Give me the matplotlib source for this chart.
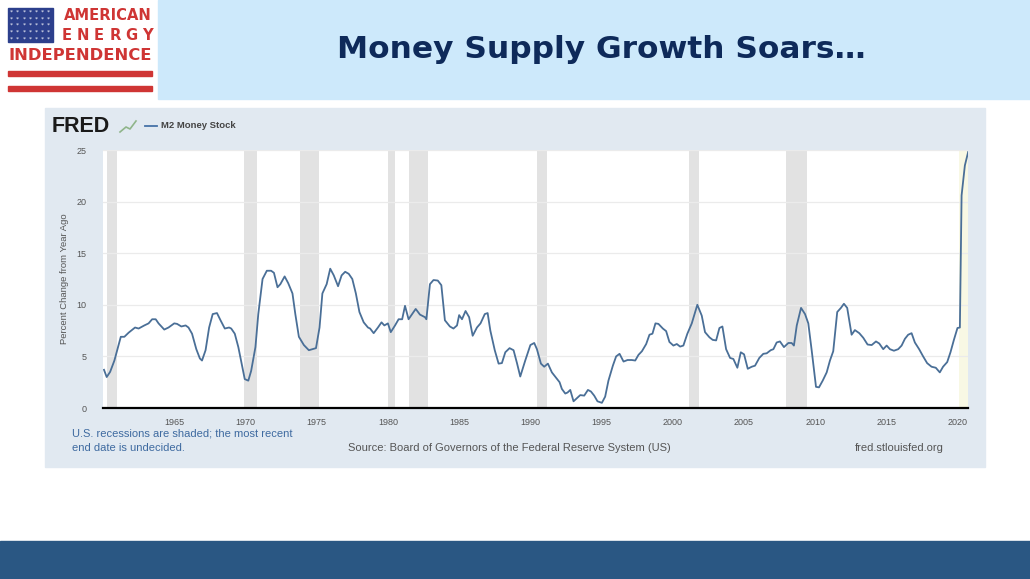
import matplotlib
matplotlib.use("Agg")
import matplotlib.pyplot as plt
from matplotlib.patches import Rectangle

# M2 money stock, percent change from year ago
years = [1960.07, 1960.26, 1960.5, 1960.8, 1961.25, 1961.5, 1961.8, 1962.25, 1962.5, 1962.9,
         1963.2, 1963.45, 1963.7, 1963.9, 1964.3, 1964.6, 1965.0, 1965.2, 1965.5, 1965.8,
         1966.0, 1966.25, 1966.55, 1966.8, 1966.95, 1967.2, 1967.45, 1967.7, 1968.0, 1968.25,
         1968.55, 1968.85, 1969.0, 1969.25, 1969.5, 1969.95, 1970.2, 1970.4, 1970.7, 1970.9,
         1971.2, 1971.5, 1971.8, 1972.0, 1972.25, 1972.45, 1972.75, 1973.0, 1973.3, 1973.5,
         1973.75, 1974.1, 1974.45, 1974.7, 1974.95, 1975.2, 1975.4, 1975.7, 1975.95, 1976.2,
         1976.5, 1976.75, 1977.0, 1977.25, 1977.5, 1977.75, 1978.0, 1978.3, 1978.6, 1978.75,
         1979.0, 1979.3, 1979.55, 1979.75, 1980.0, 1980.2, 1980.5, 1980.75, 1981.0, 1981.2,
         1981.45, 1981.7, 1981.95, 1982.25, 1982.6, 1982.7, 1982.95, 1983.2, 1983.5, 1983.75,
         1984.0, 1984.35, 1984.6, 1984.85, 1985.0, 1985.2, 1985.45, 1985.7, 1985.95, 1986.25,
         1986.5, 1986.8, 1987.0, 1987.19, 1987.5, 1987.77, 1988.0, 1988.24, 1988.54, 1988.82,
         1989.06, 1989.29, 1989.64, 1990.0, 1990.27, 1990.46, 1990.74, 1990.97, 1991.23, 1991.51,
         1991.82, 1992.05, 1992.21, 1992.45, 1992.61, 1992.8, 1993.03, 1993.27, 1993.5, 1993.78,
         1994.04, 1994.25, 1994.48, 1994.71, 1995.02, 1995.25, 1995.48, 1995.79, 1996.02, 1996.26,
         1996.54, 1996.82, 1997.12, 1997.36, 1997.59, 1997.83, 1998.13, 1998.36, 1998.57, 1998.78,
         1998.99, 1999.3, 1999.53, 1999.76, 2000.04, 2000.28, 2000.51, 2000.74, 2001.02, 2001.33,
         2001.72, 2002.03, 2002.26, 2002.57, 2002.8, 2003.04, 2003.27, 2003.48, 2003.74, 2004.02,
         2004.25, 2004.53, 2004.77, 2005.0, 2005.26, 2005.54, 2005.77, 2006.07, 2006.35, 2006.59,
         2006.87, 2007.06, 2007.29, 2007.52, 2007.8, 2008.11, 2008.34, 2008.5, 2008.7, 2009.0,
         2009.28, 2009.51, 2009.75, 2010.05, 2010.26, 2010.52, 2010.8, 2011.03, 2011.26, 2011.54,
         2011.8, 2012.01, 2012.24, 2012.38, 2012.55, 2012.78, 2013.09, 2013.37, 2013.67, 2013.96,
         2014.26, 2014.49, 2014.77, 2015.01, 2015.24, 2015.52, 2015.82, 2016.06, 2016.29, 2016.52,
         2016.76, 2016.99, 2017.29, 2017.57, 2017.85, 2018.16, 2018.46, 2018.74, 2018.97, 2019.26,
         2019.49, 2019.73, 2019.98, 2020.15, 2020.27, 2020.5, 2020.73]
m2_yoy = [3.7, 3.0, 3.5, 4.6, 6.9, 6.9, 7.3, 7.8, 7.7, 8.0,
          8.2, 8.6, 8.6, 8.2, 7.6, 7.8, 8.2, 8.15, 7.9, 8.0,
          7.8, 7.2, 5.7, 4.8, 4.6, 5.6, 7.8, 9.1, 9.2, 8.5,
          7.7, 7.8, 7.7, 7.2, 5.9, 2.8, 2.65, 3.6, 5.9, 9.1,
          12.5, 13.3, 13.3, 13.1, 11.7, 12.0, 12.75, 12.1, 11.1, 9.1,
          6.9, 6.1, 5.6, 5.7, 5.8, 7.8, 11.1, 12.0, 13.5, 12.85,
          11.8, 12.85, 13.2, 13.0, 12.5, 11.1, 9.3, 8.3, 7.8, 7.7,
          7.25, 7.8, 8.3, 8.0, 8.2, 7.35, 8.0, 8.6, 8.6, 9.9,
          8.6, 9.1, 9.6, 9.05, 8.8, 8.6, 12.0, 12.4, 12.35, 11.9,
          8.5, 7.9, 7.7, 8.0, 9.0, 8.6, 9.4, 8.8, 7.0, 7.8,
          8.2, 9.1, 9.2, 7.5, 5.6, 4.3, 4.35, 5.4, 5.8, 5.6,
          4.35, 3.05, 4.6, 6.1, 6.3, 5.7, 4.3, 4.0, 4.3, 3.45,
          2.9, 2.5, 1.85, 1.4, 1.5, 1.75, 0.65, 0.95, 1.25, 1.2,
          1.75, 1.6, 1.2, 0.65, 0.5, 1.1, 2.65, 4.1, 5.0, 5.25,
          4.5, 4.65, 4.65, 4.6, 5.15, 5.5, 6.2, 7.1, 7.2, 8.2,
          8.15, 7.7, 7.45, 6.4, 6.05, 6.2, 5.95, 6.05, 7.2, 8.2,
          10.0, 8.95, 7.35, 6.85, 6.6, 6.55, 7.75, 7.9, 5.7, 4.85,
          4.75, 3.9, 5.4, 5.2, 3.8, 4.0, 4.1, 4.85, 5.25, 5.3,
          5.6, 5.7, 6.35, 6.45, 5.9, 6.3, 6.3, 6.05, 8.0, 9.7,
          9.1, 8.2, 5.55, 2.05, 2.0, 2.65, 3.45, 4.6, 5.5, 9.3,
          9.7, 10.1, 9.7, 8.5, 7.1, 7.55, 7.25, 6.8, 6.15, 6.1,
          6.45, 6.25, 5.7, 6.05, 5.7, 5.55, 5.7, 6.05, 6.7, 7.1,
          7.25, 6.35, 5.7, 5.0, 4.35, 4.0, 3.9, 3.45, 4.0, 4.45,
          5.4, 6.6, 7.75, 7.8, 20.6, 23.5, 24.8]

rec_start = [1960.25, 1969.92, 1973.83, 1980.0, 1981.5, 1990.5, 2001.17, 2007.92]
rec_end = [1961.0, 1970.83, 1975.17, 1980.5, 1982.83, 1991.17, 2001.83, 2009.42]
open_rec_start = 2020.08

x_ticks = [1965, 1970, 1975, 1980, 1985, 1990, 1995, 2000, 2005, 2010, 2015, 2020]
y_ticks = [0, 5, 10, 15, 20, 25]

W, H = 1030, 579


def fx(px):
    return px / W


def fy(py):
    return 1 - py / H


def box(x0, y0, x1, y1, color, z=0):
    fig.patches.append(Rectangle((fx(x0), fy(y1)), fx(x1) - fx(x0), fy(y0) - fy(y1),
                                 transform=fig.transFigure, color=color, zorder=z))


fig = plt.figure(figsize=(W / 100, H / 100), dpi=100)
fig.patch.set_facecolor('white')

# slide header / footer
box(158, 0, 1030, 99, '#cde9fb')
box(0, 541, 1030, 579, '#2a5783')
fig.text(fx(601), fy(50), 'Money Supply Growth Soars\u2026', fontsize=22.5, fontweight='bold',
         color='#0e2a5a', ha='center', va='center', family='DejaVu Sans')

# logo
red = '#cf3534'
box(8, 8, 53, 42, '#2c3f8c')
for i in range(5):
    for j in range(7):
        fig.text(fx(11.5 + j * 6.2), fy(12 + i * 6.7), '*', color='white', fontsize=4.5,
                 ha='center', va='center')
fig.text(fx(152), fy(16), 'AMERICAN', color=red, fontsize=10.6, fontweight='bold',
         ha='right', va='center', family='DejaVu Sans')
for k, ch in enumerate('ENERGY'):
    fig.text(fx(67 + k * 16.0), fy(35), ch, color=red, fontsize=10.6, fontweight='bold',
             ha='center', va='center', family='DejaVu Sans')
fig.text(fx(80), fy(55), 'INDEPENDENCE', color=red, fontsize=11.8, fontweight='bold',
         ha='center', va='center', family='DejaVu Sans')
for sy in (71, 86):
    box(8, sy, 152, sy + 5, red, 1)

# FRED panel
box(45, 108, 985, 467, '#e1e9f1')
fig.text(fx(52), fy(127), 'FRED', fontsize=15.5, fontweight='heavy', color='#1a1a1a',
         ha='left', va='center', family='Liberation Sans')
fig.lines.append(plt.Line2D([fx(120), fx(126), fx(130), fx(136)],
                            [fy(132), fy(127), fy(129), fy(121)],
                            transform=fig.transFigure, color='#8fb58a', lw=1.2))
fig.lines.append(plt.Line2D([fx(145), fx(157)], [fy(126), fy(126)],
                            transform=fig.transFigure, color='#4572a7', lw=1.3))
fig.text(fx(161), fy(126), 'M2 Money Stock', fontsize=6.8, fontweight='bold', color='#444444',
         ha='left', va='center', family='Liberation Sans')

ax = fig.add_axes([fx(103), fy(408), fx(968) - fx(103), fy(150) - fy(408)])
ax.set_zorder(2)
ax.set_facecolor('white')
for s, e in zip(rec_start, rec_end):
    ax.axvspan(s, e, color='#e2e2e2', lw=0, zorder=1)
ax.axvspan(open_rec_start, 2020.75, color='#f8f8e4', lw=0, zorder=1)
ax.plot(years, m2_yoy, color='#4a6f97', lw=1.3, zorder=3)

ax.set_xlim(1960.0, 2020.72)
ax.set_ylim(0, 25)
ax.set_yticks(y_ticks)
ax.set_xticks(x_ticks)
ax.grid(axis='y', color='#ebebeb', lw=0.9, zorder=0)
for sp in ('top', 'right', 'left'):
    ax.spines[sp].set_visible(False)
ax.spines['bottom'].set_color('black')
ax.spines['bottom'].set_linewidth(1.6)
ax.spines['bottom'].set_zorder(4)
ax.tick_params(axis='both', length=0, labelsize=6.5, labelcolor='#555555')
ax.tick_params(axis='y', pad=12)
ax.tick_params(axis='x', pad=7)
for lab in ax.get_xticklabels() + ax.get_yticklabels():
    lab.set_family('Liberation Sans')
ax.set_ylabel('Percent Change from Year Ago', fontsize=6.8, color='#555555',
              family='Liberation Sans', labelpad=5)

fig.text(fx(72), fy(434), 'U.S. recessions are shaded; the most recent', fontsize=8,
         color='#3e6aa0', ha='left', va='center', family='Liberation Sans')
fig.text(fx(72), fy(448), 'end date is undecided.', fontsize=8,
         color='#3e6aa0', ha='left', va='center', family='Liberation Sans')
fig.text(fx(348), fy(448), 'Source: Board of Governors of the Federal Reserve System (US)',
         fontsize=8, color='#555555', ha='left', va='center', family='Liberation Sans')
fig.text(fx(944), fy(448), 'fred.stlouisfed.org', fontsize=8, color='#555555',
         ha='right', va='center', family='Liberation Sans')

fig.savefig('out.png', dpi=100)
